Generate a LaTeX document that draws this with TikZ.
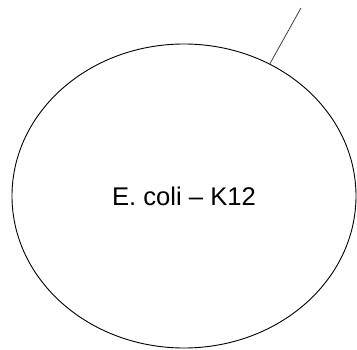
\documentclass[tikz,border=0pt]{standalone}
\usepackage{fontspec}
\setmainfont{Liberation Sans}
\usepackage{tikz}
\usetikzlibrary{
    shapes.geometric,
    calc,
    positioning
}

\begin{document}
\begin{tikzpicture}[x=1pt, y=1pt,
        cellshape/.style={ellipse, draw, line width=0.9pt, inner sep=0pt,
            minimum width=344pt, minimum height=304pt,
            font=\fontsize{25.6}{30}\selectfont}]
        \useasboundingbox (0, 0) rectangle (357, 349);
        \node[cellshape] at (184, 153) (cell) {E. coli -- K12};
        \coordinate (tip) at (301, 341);
        \draw[black!75, line width=0.8pt]
        (cell.57.7) -- (tip);
    \end{tikzpicture}
\end{document}
